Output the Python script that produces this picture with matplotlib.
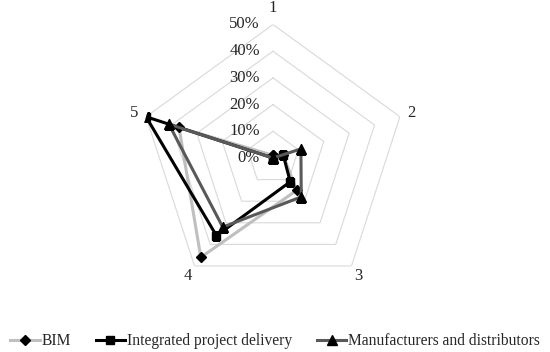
import numpy as np
import matplotlib.pyplot as plt
from matplotlib.transforms import offset_copy

# axes 1..5 of the radar, values in %
categories = ['1', '2', '3', '4', '5']
bim = [1, 4, 15, 46, 37]
ipd = [0, 4, 11, 36, 50]
mfd = [0, 11, 18, 32, 41]
rings = [10, 20, 30, 40, 50]
ring_labels = ['0%', '10%', '20%', '30%', '40%', '50%']

plt.rcParams['font.family'] = ['Liberation Serif', 'DejaVu Serif']

fig = plt.figure(figsize=(5.5, 3.52), dpi=100)
ax = fig.add_axes([0.2536, 0.1719, 0.4855, 0.7585], projection='polar')
ax.set_theta_offset(np.pi / 2)
ax.set_theta_direction(-1)
ax.set_ylim(0, 50)
ax.grid(False)
ax.set_xticks([])
ax.set_yticks([])
ax.spines['polar'].set_visible(False)
ax.patch.set_visible(False)

n = len(categories)
theta = np.arange(n) * 2 * np.pi / n
theta_c = np.append(theta, theta[0])

# pentagon grid
for r in rings:
    ax.plot(theta_c, [r] * (n + 1), color='#d9d9d9', lw=0.8, zorder=1)

# ring labels, left of axis 1
lab_tr = offset_copy(ax.transData, fig=fig, x=-13, y=0, units='dots')
for i, lab in enumerate(ring_labels):
    ax.text(0, i * 10, lab, transform=lab_tr, ha='right', va='center',
            fontsize=12, color='#262626')

# category labels
for t, c in zip(theta, categories):
    r = 56 if c == '1' else 54.5
    ax.text(t, r, c, ha='center', va='center', fontsize=12, color='#262626')

def closed(v):
    return list(v) + [v[0]]

ax.plot(theta_c, closed(bim), color='#bfbfbf', lw=2.2, marker='D', ms=5.5,
        mfc='black', mec='black', label='BIM', zorder=3)
ax.plot(theta_c, closed(ipd), color='black', lw=2.2, marker='s', ms=6,
        mfc='black', mec='black', label='Integrated project delivery', zorder=4)
ax.plot(theta_c, closed(mfd), color='#595959', lw=2.2, marker='^', ms=7,
        mfc='black', mec='black', label='Manufacturers and distributors', zorder=5)

fig.legend(loc='lower center', bbox_to_anchor=(0.5, -0.01), ncol=3, frameon=False,
           fontsize=11.2, handlelength=1.9, handletextpad=0.1, columnspacing=1.6,
           borderaxespad=0.2, borderpad=0.2, labelcolor='#262626')

fig.savefig('out.png', dpi=100)
